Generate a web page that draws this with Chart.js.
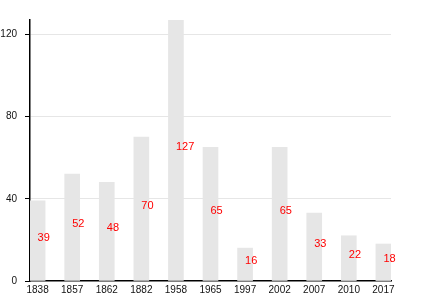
<!DOCTYPE html>
<html>
<head>
<meta charset="utf-8">
<style>
  html, body { margin: 0; padding: 0; background: #fff; }
  #wrap { width: 430px; height: 300px; }
</style>
<script src="https://cdn.jsdelivr.net/npm/chart.js@4.4.0/dist/chart.umd.min.js"></script>
</head>
<body>
<div id="wrap"><canvas id="chart"></canvas></div>
<script>
const years = ['1838', '1857', '1862', '1882', '1958', '1965', '1997', '2002', '2007', '2010', '2017'];
const counts = [39, 52, 48, 70, 127, 65, 16, 65, 33, 22, 18];
const yTicks = [0, 40, 80, 120];

// подписи значений: от центра столбца вправо, на середине высоты
const barLabels = {
  id: 'barLabels',
  afterDatasetsDraw(chart) {
    const ctx = chart.ctx;
    const meta = chart.getDatasetMeta(0);
    ctx.save();
    ctx.font = '11px "Liberation Sans", Arial, sans-serif';
    ctx.fillStyle = 'red';
    ctx.textAlign = 'left';
    ctx.textBaseline = 'alphabetic';
    meta.data.forEach((bar, i) => {
      ctx.fillText(String(counts[i]), bar.x, (bar.y + bar.base) / 2);
    });
    ctx.restore();
  }
};

new Chart(document.getElementById('chart'), {
  type: 'bar',
  data: {
    datasets: [{
      data: counts.map((v, i) => ({ x: i, y: v })),
      backgroundColor: '#e6e6e6',
      borderWidth: 0,
      barThickness: 15
    }]
  },
  options: {
    responsive: true,
    maintainAspectRatio: false,
    animation: false,
    layout: { padding: { top: 20, right: 39, bottom: 1, left: 0 } },
    plugins: {
      legend: { display: false },
      tooltip: { enabled: false }
    },
    scales: {
      x: {
        type: 'linear',
        offset: false,
        min: -0.22,
        max: years.length - 1 + 0.22,
        grid: { display: false, drawTicks: false, offset: false },
        border: { color: '#000', width: 1.5 },
        ticks: {
          stepSize: 1,
          includeBounds: false,
          autoSkip: false,
          maxRotation: 0,
          padding: 3,
          color: '#111',
          font: { size: 10, family: '"Liberation Sans", Arial, sans-serif' },
          callback: v => years[v] ?? ''
        }
      },
      y: {
        min: 0,
        max: Math.max(...counts),
        afterFit: scale => { scale.width = 30; },
        afterBuildTicks: scale => { scale.ticks = yTicks.map(v => ({ value: v })); },
        grid: {
          color: c => (c.tick && c.tick.value === 0 ? 'rgba(0,0,0,0)' : '#e6e6e6'),
          tickColor: '#000',
          tickLength: 5
        },
        border: { color: '#000', width: 1.5 },
        ticks: {
          padding: 8,
          color: '#111',
          font: { size: 10, family: '"Liberation Sans", Arial, sans-serif' }
        }
      }
    }
  },
  plugins: [barLabels]
});
</script>
</body>
</html>
